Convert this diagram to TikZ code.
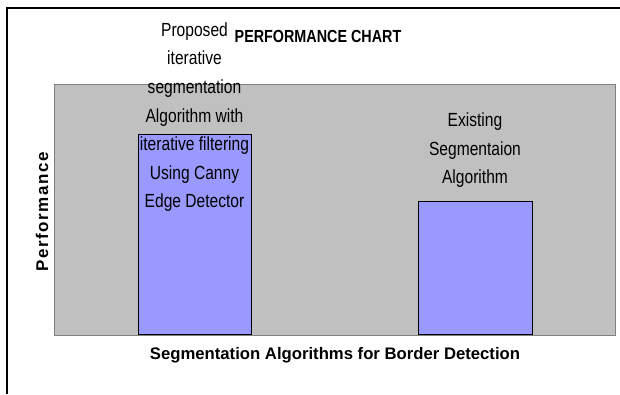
\documentclass[tikz,border=0pt]{standalone}
\usepackage{fontspec}
\setmainfont{Liberation Sans}
\newfontfamily\narrowfont{Liberation Sans}[FakeStretch=0.82]
\newfontfamily\spacedfont{Liberation Sans}[LetterSpace=9]
\usetikzlibrary{positioning}
\definecolor{plotgray}{HTML}{C0C0C0}
\definecolor{edgegray}{HTML}{808080}
\definecolor{barblue}{HTML}{9999FF}

\begin{document}
\begin{tikzpicture}[x=1pt, y=-1pt,
        bar/.style={draw=black, fill=barblue, line width=0.9pt, inner sep=0pt},
        barlabel/.style={align=center, inner sep=0pt, font=\narrowfont\fontsize{19}{28.6}\selectfont},
        axislabel/.style={inner sep=0pt, font=\bfseries\fontsize{16.7}{20}\selectfont}]
        \useasboundingbox (0,0) rectangle (620,394);
        \fill[white] (0,0) rectangle (620,394);
        \draw[line width=1.6pt] (7,394) -- (7,8) -- (621,8);

        \node[draw=edgegray, fill=plotgray, line width=1pt, inner sep=0pt,
            minimum width=561pt, minimum height=251pt] (plot) at (334.5,209.5) {};

        \node[bar, minimum width=113pt, minimum height=200pt, anchor=south] (bar1) at (194.5,335) {};
        \node[bar, minimum width=114pt, minimum height=133pt, anchor=south] (bar2) at (475,335) {};

        \node[barlabel] (lab1) at ([yshift=17pt]bar1.north) {Proposed\\iterative\\segmentation\\Algorithm with\\iterative filtering\\Using Canny\\Edge Detector};
        \node[barlabel] (lab2) at ([yshift=51pt]bar2.north) {Existing\\Segmentaion\\Algorithm};

        \node[font=\narrowfont\bfseries\fontsize{17.5}{20}\selectfont, inner sep=0pt] (title) at (318,36) {PERFORMANCE CHART};
        \node[axislabel] (xlab) at (335,355) {Segmentation Algorithms for Border Detection};
        \node[inner sep=0pt, rotate=90, font=\spacedfont\bfseries\fontsize{17}{20}\selectfont] (ylab) at (42,212) {Performance};
    \end{tikzpicture}
\end{document}
